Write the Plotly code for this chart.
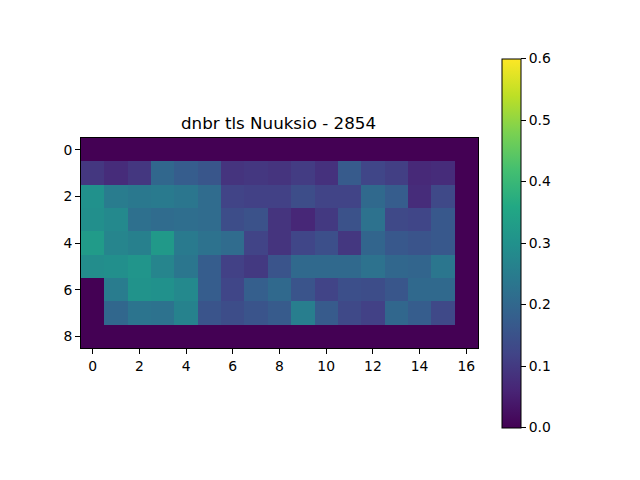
import plotly.graph_objects as go

title = "dnbr tls Nuuksio - 2854"
columns = list(range(17))
rows = list(range(9))
row0 = [0] * 17
row1 = [.095, .075, .095, .20, .175, .16, .09, .095, .09, .105, .085, .17, .125, .11, .07, .075, 0]
row2 = [.30, .25, .24, .245, .235, .21, .12, .115, .115, .14, .12, .12, .205, .175, .075, .13, 0]
row3 = [.295, .28, .22, .21, .215, .21, .14, .15, .09, .065, .10, .15, .225, .13, .125, .165, 0]
row4 = [.325, .27, .26, .32, .245, .225, .21, .12, .09, .125, .145, .095, .195, .165, .155, .165, 0]
row5 = [.29, .295, .31, .27, .235, .175, .115, .10, .155, .205, .205, .205, .225, .20, .195, .235, 0]
row6 = [0, .25, .305, .30, .28, .175, .125, .18, .205, .155, .12, .145, .14, .16, .205, .205, 0]
row7 = [0, .20, .23, .225, .265, .155, .14, .155, .17, .255, .17, .13, .115, .20, .175, .13, 0]
row8 = [0] * 17
values = [row0, row1, row2, row3, row4, row5, row6, row7, row8]
colorbar_ticks = [0, .1, .2, .3, .4, .5, .6]
viridis = ["#440154", "#482475", "#414487", "#355f8d", "#2a788e", "#21918c",
           "#22a884", "#44bf70", "#7ad151", "#bddf26", "#fde725"]

font = dict(family="DejaVu Sans", size=13.9, color="black")

fig = go.Figure(go.Heatmap(
    z=values, x=columns, y=rows,
    colorscale=[[i / 10, c] for i, c in enumerate(viridis)], zmin=0, zmax=0.6,
    hoverinfo="skip",
    colorbar=dict(
        x=(502 - 80) / 397.5, xanchor="left", y=0.5, yanchor="middle",
        thickness=19, thicknessmode="pixels", len=369, lenmode="pixels",
        tickvals=colorbar_ticks, tickformat=".1f", ticks="outside", ticklen=5,
        tickwidth=1, tickcolor="black", tickfont=font,
        outlinewidth=1, outlinecolor="black", borderwidth=0, xpad=0, ypad=0,
    ),
))

axis = dict(showgrid=False, zeroline=False, showline=True, linecolor="black",
            linewidth=1, mirror=True, ticks="outside", ticklen=5, tickwidth=1,
            tickcolor="black", tickfont=font, dtick=2, tick0=0)

# The page body adds an 8 px margin, so the figure is 8 px smaller on each leading edge.
fig.update_layout(
    width=632, height=472, paper_bgcolor="white", plot_bgcolor="white",
    margin=dict(l=73, r=161.5, t=130, b=131.5, pad=0),
    title=dict(text=title, x=0.4975, xref="paper", xanchor="center",
               y=1 - 115 / 472, yref="container", yanchor="middle",
               font=dict(family="DejaVu Sans", size=16.7, color="black")),
    xaxis=dict(range=[-0.5, 16.5], **axis),
    yaxis=dict(range=[8.5, -0.5], **axis),
)

fig.write_html("out.html")
